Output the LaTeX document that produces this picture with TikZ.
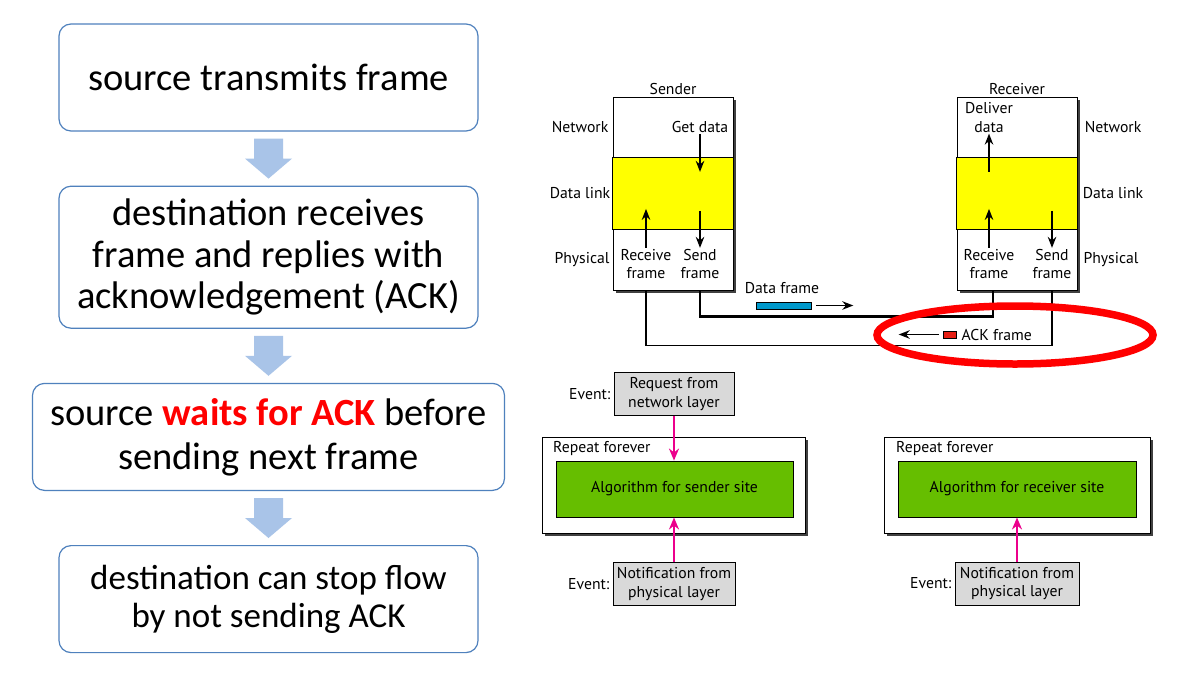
\documentclass[tikz,border=0pt]{standalone}
\usepackage{fontspec}
\setmainfont{Carlito}
\newfontfamily\figfont{PT Sans}
\usetikzlibrary{arrows.meta,positioning,calc,shadows}
\definecolor{flowblue}{RGB}{79,129,189}
\definecolor{flowarrow}{RGB}{169,196,232}
\definecolor{layeryellow}{RGB}{255,255,0}
\definecolor{algogreen}{RGB}{102,190,0}
\definecolor{eventgray}{RGB}{217,217,217}
\definecolor{eventpink}{RGB}{236,0,140}
\definecolor{framecyan}{RGB}{0,153,204}
\definecolor{ackred}{RGB}{230,30,20}
\definecolor{markred}{RGB}{255,0,0}

\begin{document}
\begin{tikzpicture}[
        x=1pt, y=-1pt,
        flowbox/.style={rectangle, rounded corners=12pt, draw=flowblue, line width=1.2pt,
            minimum width=419pt, minimum height=107pt, inner sep=0pt,
            align=center, font=\fontsize{#1}{41.5}\selectfont},
        lbl/.style={inner sep=1pt, align=center, font=\figfont\fontsize{15.7}{18.5}\selectfont},
        layerbox/.style={rectangle, draw, line width=0.9pt, fill=white,
            drop shadow={shadow xshift=3pt, shadow yshift=-3pt, fill=black!75, opacity=1}},
        eventbox/.style={lbl, draw, line width=0.9pt, fill=eventgray, minimum height=43pt},
        algobox/.style={lbl, draw, line width=0.9pt, fill=algogreen,
            minimum height=56pt},
        tip/.style={-{Stealth[length=11pt,width=8.5pt]}, line width=1.6pt},
        pinkarrow/.style={-{Stealth[length=12pt,width=10pt]}, draw=eventpink, line width=2pt}
    ]
    \useasboundingbox[fill=white] (0,0) rectangle (1196,672);

    % left column
    \node[flowbox=38.5] (src) at (268.5,77.5) {source transmits frame};
    \node[flowbox=38.5, minimum height=142pt, below=54pt of src] (recv)
        {destination receives\\frame and replies with\\acknowledgement (ACK)};
    \node[flowbox=38.5, minimum width=472pt, below=54pt of recv, font=\fontsize{38.5}{44}\selectfont] (wait)
        {source \textcolor{markred}{\textbf{waits for ACK}} before\\sending next frame};
    \node[flowbox=35, below=54pt of wait, font=\fontsize{35}{38}\selectfont] (stop)
        {destination can stop flow\\by not sending ACK};
    \foreach \a/\b in {src/recv, recv/wait, wait/stop}
        \fill[flowarrow] ($(\a.south)+(-14.5,7)$) -- ++(0,20) -- ++(-9,0)
            -- ($(\b.north)+(0,-7)$) -- ++(23.5,-20) -- ++(-9,0) -- ++(0,-20) -- cycle;

    % sender and receiver stacks
    \node[layerbox, minimum width=120pt, minimum height=193pt] (sender) at (673,193.5) {};
    \node[layerbox, minimum width=120pt, minimum height=193pt] (receiver) at (1017,193.5) {};
    \foreach \s in {sender, receiver}
        \draw[line width=0.9pt, fill=layeryellow] ($(\s.north west)+(0,61)$) rectangle ($(\s.south east)+(0,-61)$);
    \node[lbl, above=1pt of sender] (sname) {Sender};
    \node[lbl, above=1pt of receiver] (rname) {Receiver};

    \node[lbl] (snetlbl) at (580,127) {Network};
    \node[lbl] (sdllbl) at (580,193) {Data link};
    \node[lbl] (sphylbl) at (582,260) {Physical};
    \node[lbl] (rnetlbl) at (1113,127) {Network};
    \node[lbl] (rdllbl) at (1113,193) {Data link};
    \node[lbl] (rphylbl) at (1111,260) {Physical};

    \node[lbl] (sget) at (700,127) {Get data};
    \node[lbl] (srecv) at (646,264) {Receive\\frame};
    \node[lbl] (ssend) at (700,264) {Send\\frame};
    \draw[tip] (sget.south) -- ++(0,38);
    \draw[tip] ($(ssend.north)+(0,-37)$) -- (ssend.north);
    \draw[tip] (srecv.north) -- ++(0,-39);

    \node[lbl] (rdeliver) at (989,117.5) {Deliver\\data};
    \node[lbl] (rrecv) at (989,264) {Receive\\frame};
    \node[lbl] (rsend) at (1052,264) {Send\\frame};
    \draw[tip] ($(rdeliver.south)+(0,38)$) -- (rdeliver.south);
    \draw[tip] (rrecv.north) -- ++(0,-39);
    \draw[tip] ($(rsend.north)+(0,-37)$) -- (rsend.north);

    % links
    \draw[line width=2.6pt] (ssend |- sender.south) -- ++(0,26) -| ($(rrecv |- receiver.south)+(4,0)$);
    \draw[line width=1.2pt] (srecv |- sender.south) -- ++(0,55) -| (rsend |- receiver.south);

    \node[lbl] (dlabel) at (782,288) {Data frame};
    \node[draw, line width=0.6pt, fill=framecyan, minimum width=55pt, minimum height=7pt, inner sep=0pt] (dpkt) at (783.5,305.5) {};
    \draw[tip] ($(dpkt.east)+(5,0)$) -- ++(37,0);

    \node[draw, line width=0.6pt, fill=ackred, minimum width=13pt, minimum height=7pt, inner sep=0pt] (apkt) at (949.5,334.5) {};
    \node[lbl, right=4pt of apkt] (alabel) {ACK frame};
    \draw[tip] ($(apkt.west)+(-4,0)$) -- ++(-40,0);
    \draw[markred, line width=7.5pt] (1015,335) ellipse [x radius=138, y radius=29];

    % sender site algorithm
    \node[layerbox, minimum width=263pt, minimum height=96pt] (sloop) at (673.5,485) {};
    \node[lbl, anchor=west] (sloopname) at (552,449) {Repeat forever};
    \node[algobox, minimum width=237pt] (salgo) at (674.5,489) {Algorithm for sender site};
    \node[eventbox, minimum width=120pt] (sreq) at (674,394) {Request from\\network layer};
    \node[lbl, left=2pt of sreq] (sreqev) {Event:};
    \node[eventbox, minimum width=122pt] (snote) at (674,584) {Notification from\\physical layer};
    \node[lbl, left=2pt of snote] (snoteev) {Event:};
    \draw[pinkarrow] (sreq.south) -- (sreq.south |- salgo.north);
    \draw[pinkarrow] (snote.north) -- (snote.north |- salgo.south);

    % receiver site algorithm
    \node[layerbox, minimum width=266pt, minimum height=96pt] (rloop) at (1017,485) {};
    \node[lbl, anchor=west] (rloopname) at (895,449) {Repeat forever};
    \node[algobox, minimum width=238pt] (ralgo) at (1017,489) {Algorithm for receiver site};
    \node[eventbox, minimum width=124pt] (rnote) at (1017,583.5) {Notification from\\physical layer};
    \node[lbl, left=2pt of rnote] (rnoteev) {Event:};
    \draw[pinkarrow] (rnote.north) -- (rnote.north |- ralgo.south);
\end{tikzpicture}
\end{document}
